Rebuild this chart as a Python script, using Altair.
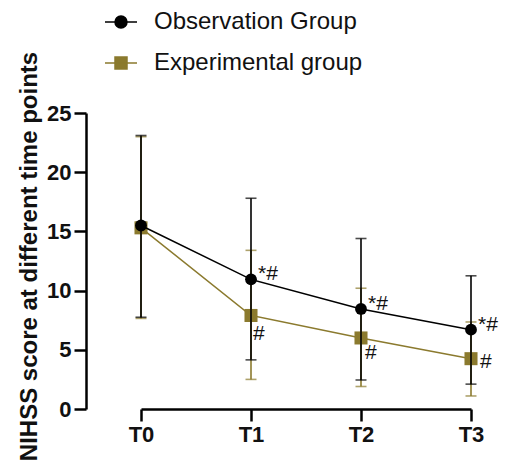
import altair as alt
import pandas as pd

times = ["T0", "T1", "T2", "T3"]
groups = ["Observation Group", "Experimental group"]

obs_mean = [15.5, 10.95, 8.45, 6.7]
obs_upper = [23.1, 17.8, 14.4, 11.25]
obs_lower = [7.75, 4.15, 2.45, 2.1]
obs_mark = ["", "*#", "*#", "*#"]

exp_mean = [15.3, 7.9, 6.0, 4.25]
exp_upper = [23.0, 13.4, 10.2, 7.35]
exp_lower = [7.65, 2.5, 1.9, 1.1]
exp_mark = ["", "#", "#", "#"]

rows = []
for i, t in enumerate(times):
    rows.append(dict(time=t, group=groups[0], mean=obs_mean[i], lo=obs_lower[i], hi=obs_upper[i], mark=obs_mark[i]))
for i, t in enumerate(times):
    rows.append(dict(time=t, group=groups[1], mean=exp_mean[i], lo=exp_lower[i], hi=exp_upper[i], mark=exp_mark[i]))
df = pd.DataFrame(rows)

FONT = "Liberation Sans"
BLACK = "#000000"
GOLD = "#8B7A2E"

x = alt.X("time:N", scale=alt.Scale(type="point", domain=times, range=[55, 385], padding=0),
          axis=alt.Axis(title=None, labelAngle=0))
y_scale = alt.Scale(domain=[0, 25], nice=False)

color_scale = alt.Scale(domain=groups, range=[BLACK, GOLD])
bar_scale = alt.Scale(domain=groups, range=["#222222", GOLD])

circle_path = "M-2.67,0H2.67M1,0A1,1,0,1,1,-1,0A1,1,0,1,1,1,0Z"
square_path = "M-2.67,0H2.67M-1,-1H1V1H-1Z"

def make_legend(path, ly, vals, fillc, strokec):
    return alt.Legend(
        title=None, orient="none", legendX=23, legendY=ly, padding=0, values=vals,
        labelFont=FONT, labelFontSize=24, labelColor="#111111", labelOffset=21, labelLimit=0,
        symbolSize=144, symbolStrokeWidth=1.5, symbolType=path, symbolOpacity=1,
        symbolFillColor=fillc, symbolStrokeColor=strokec,
    )

def layers_for(g, shape, size):
    d = df[df.group == g]
    base = alt.Chart(d)
    line = base.mark_line(strokeWidth=1.5).encode(
        x=x, y=alt.Y("mean:Q", scale=y_scale),
        color=alt.Color("group:N", scale=color_scale, legend=None))
    bar = base.mark_rule(strokeWidth=1.6).encode(
        x=x, y=alt.Y("lo:Q", scale=y_scale), y2="hi:Q",
        color=alt.Color("group:N", scale=bar_scale, legend=None))
    cap_hi = base.mark_tick(orient="horizontal", size=11, thickness=1.6).encode(
        x=x, y=alt.Y("hi:Q", scale=y_scale),
        color=alt.Color("group:N", scale=bar_scale, legend=None))
    cap_lo = base.mark_tick(orient="horizontal", size=11, thickness=1.6).encode(
        x=x, y=alt.Y("lo:Q", scale=y_scale),
        color=alt.Color("group:N", scale=bar_scale, legend=None))
    pts = base.mark_point(filled=True, size=size, opacity=1, shape=shape).encode(
        x=x, y=alt.Y("mean:Q", scale=y_scale),
        color=alt.Color("group:N", scale=color_scale, legend=None))
    return [line, bar, cap_hi, cap_lo, pts]

exp_layers = layers_for(groups[1], "square", 170)
obs_layers = layers_for(groups[0], "circle", 140)

# legend carriers: invisible copies of the markers
leg_obs = alt.Chart(df[df.group == groups[0]]).mark_point(filled=True, opacity=0, strokeWidth=1.5).encode(
    x=x, y=alt.Y("mean:Q", scale=y_scale),
    fill=alt.Fill("group:N", scale=color_scale,
                  legend=make_legend(circle_path, -103, [groups[0]], BLACK, BLACK)),
)
leg_exp = alt.Chart(df[df.group == groups[1]]).mark_point(filled=True, opacity=0, strokeWidth=1.5).encode(
    x=x, y=alt.Y("mean:Q", scale=y_scale),
    fill=alt.Fill("group:N", scale=color_scale,
                  legend=make_legend(square_path, -62, [groups[1]], GOLD, GOLD)),
)

txt_base = dict(font=FONT, fontSize=21, align="left", baseline="middle", color="#111111")
obs_d = df[(df.group == groups[0]) & (df.mark != "")]
obs_txt = alt.Chart(obs_d).mark_text(dx=7, dy=-5, **txt_base).encode(
    x=x, y=alt.Y("mean:Q", scale=y_scale), text="mark:N")

exp_d = df[df.group == groups[1]]
exp_t1 = alt.Chart(exp_d[exp_d.time == "T1"]).mark_text(dx=2, dy=19, **txt_base).encode(
    x=x, y=alt.Y("mean:Q", scale=y_scale), text="mark:N")
exp_t2 = alt.Chart(exp_d[exp_d.time == "T2"]).mark_text(dx=4, dy=15, **txt_base).encode(
    x=x, y=alt.Y("mean:Q", scale=y_scale), text="mark:N")
exp_t3 = alt.Chart(exp_d[exp_d.time == "T3"]).mark_text(dx=9, dy=3, **txt_base).encode(
    x=x, y=alt.Y("mean:Q", scale=y_scale), text="mark:N")

chart = alt.layer(*exp_layers, *obs_layers, leg_obs, leg_exp, obs_txt, exp_t1, exp_t2, exp_t3).encode(
    y=alt.Y("mean:Q", scale=y_scale,
            axis=alt.Axis(title="NIHSS score at different time points", values=[0, 5, 10, 15, 20, 25],
                          titleY=143, titleAnchor="middle"))
).resolve_scale(fill="independent").properties(
    width=429, height=296,
    autosize=alt.AutoSizeParams(type="none"),
    padding={"left": 78, "top": 105, "right": 0, "bottom": 52},
).configure_view(stroke=None).configure_axis(
    grid=False, domainColor="#000000", domainWidth=2.5, tickColor="#000000", tickWidth=2.5,
    tickSize=12, labelFont=FONT, labelFontSize=22, labelFontWeight="bold", labelColor="#111111",
    labelPadding=3, titleFont=FONT, titleFontSize=24, titleFontWeight="bold", titleColor="#111111",
    titlePadding=5,
)

chart.save("out.html", embed_options={"renderer": "svg", "actions": False})
